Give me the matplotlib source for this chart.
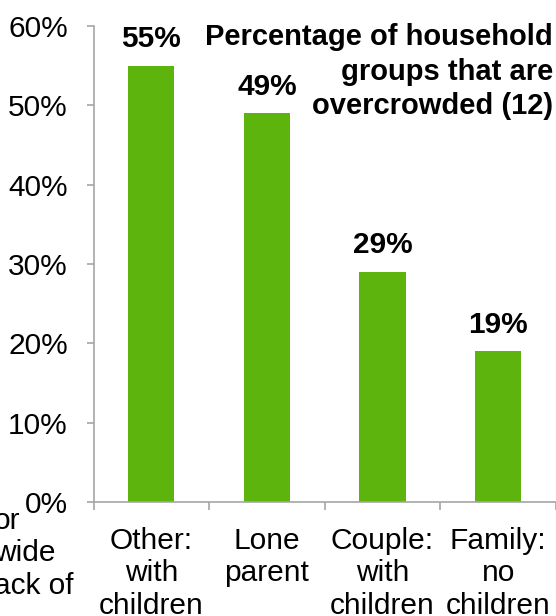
import matplotlib
matplotlib.use("Agg")
import matplotlib.pyplot as plt
from matplotlib.ticker import FixedLocator, PercentFormatter

# overcrowding share by household group
groups = ["Other:\nwith\nchildren", "Lone\nparent", "Couple:\nwith\nchildren", "Family:\nno\nchildren"]
pct = [55, 49, 29, 19]
y_ticks = [0, 10, 20, 30, 40, 50, 60]

BAR = "#5DB40C"
GREY = "#A6A6A6"

plt.rcParams["font.family"] = ["Liberation Sans", "DejaVu Sans"]
plt.rcParams["font.size"] = 21.5

fig = plt.figure(figsize=(5.56, 6.16), dpi=100)
ax = fig.add_axes([93.5 / 556, 114 / 616, 462.5 / 556, 476 / 616])

xs = list(range(len(groups)))
ax.bar(xs, pct, width=0.4, color=BAR, zorder=2)
for x, v in zip(xs, pct):
    ax.annotate(f"{v}%", (x, v), xytext=(0, 9), textcoords="offset points",
                ha="center", va="bottom", fontweight="bold")

ax.set_xlim(-0.5, len(groups) - 0.5)
ax.set_ylim(0, 60)
ax.yaxis.set_major_locator(FixedLocator(y_ticks))
ax.yaxis.set_major_formatter(PercentFormatter(decimals=0))

# tick marks sit on category boundaries, labels in the middle
ax.xaxis.set_major_locator(FixedLocator([i - 0.5 for i in range(len(groups) + 1)]))
ax.xaxis.set_major_formatter(plt.NullFormatter())
ax.xaxis.set_minor_locator(FixedLocator(xs))
ax.set_xticklabels(groups, minor=True)
ax.tick_params(axis="x", which="minor", length=0, pad=18)
ax.tick_params(axis="x", which="major", length=6, width=1.2, color=GREY, direction="out")
ax.tick_params(axis="y", length=5, width=1.2, color=GREY, pad=13.5)

for side in ("top", "right"):
    ax.spines[side].set_visible(False)
for side in ("left", "bottom"):
    ax.spines[side].set_color(GREY)
    ax.spines[side].set_linewidth(1.2)

fig.text(553 / 556, 1 - 23 / 616,
         "Percentage of household\ngroups that are\novercrowded (12)",
         ha="right", va="top", fontweight="bold", fontsize=21, linespacing=1.3)

# spill-over from the neighbouring text box
fig.text(-6 / 556, 1 - 507 / 616, "or\nwide\nack of", ha="left", va="top")

fig.savefig("out.png", dpi=100)
